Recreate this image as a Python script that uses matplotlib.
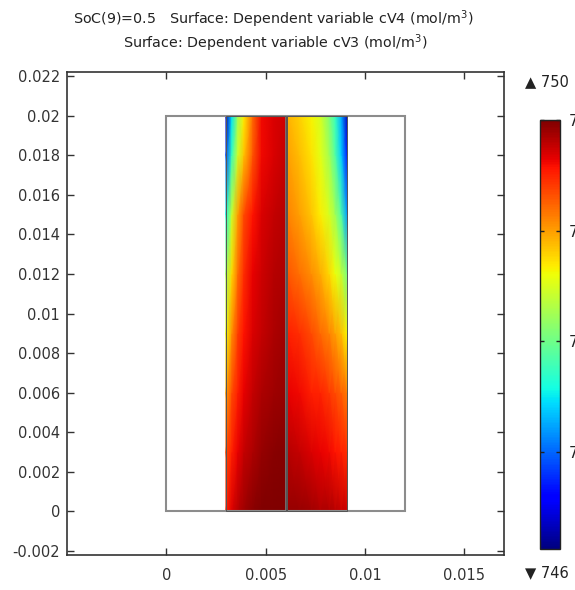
import numpy as np
import matplotlib
matplotlib.use("Agg")
import matplotlib.pyplot as plt
from matplotlib.patches import Rectangle
from matplotlib.ticker import FuncFormatter

# ---------------- data ----------------
title1 = "SoC(9)=0.5   Surface: Dependent variable cV4 (mol/m$^3$)"
title2 = "Surface: Dependent variable cV3 (mol/m$^3$)"

x_ticks = [0, 0.005, 0.01, 0.015]
y_ticks = [-0.002, 0, 0.002, 0.004, 0.006, 0.008, 0.01, 0.012, 0.014,
           0.016, 0.018, 0.02, 0.022]
cbar_ticks = [747, 748, 749, 750]
c_min, c_max = 746.12, 750.0
max_label = "\u25B2 750"
min_label = "\u25BC 746"

# geometry (m)
cell_x = [0.0, 0.012]
cell_y = [0.0, 0.02]
left_x = [0.003, 0.006]
memb_x = [0.006, 0.0061]
right_x = [0.0061, 0.0091]

# normalised sample positions across each electrode (u) and along height (v)
u_left = [0, 0.1, 0.2, 0.3, 0.45, 0.6, 0.8, 1.0]
u_right = [0, 0.2, 0.4, 0.55, 0.7, 0.8, 0.9, 1.0]
v_rows = [0, 0.15, 0.3, 0.45, 0.6, 0.75, 0.9, 1.0]

# cV4 in left electrode (mol/m^3), rows bottom -> top
c_left = [
    [749.53, 749.69, 749.81, 749.88, 749.96, 750.00, 750.00, 750.00],
    [749.34, 749.53, 749.65, 749.77, 749.84, 749.92, 749.96, 749.98],
    [748.99, 749.34, 749.53, 749.65, 749.77, 749.84, 749.88, 749.92],
    [748.60, 749.07, 749.38, 749.57, 749.69, 749.77, 749.84, 749.88],
    [748.25, 748.76, 749.19, 749.46, 749.65, 749.73, 749.81, 749.84],
    [747.56, 748.45, 748.99, 749.34, 749.57, 749.69, 749.77, 749.81],
    [746.90, 747.75, 748.45, 748.84, 749.30, 749.61, 749.69, 749.77],
    [746.35, 747.48, 748.25, 748.68, 749.22, 749.61, 749.69, 749.73],
]
# cV3 in right electrode (mol/m^3), rows bottom -> top
c_right = [
    [749.92, 749.92, 749.88, 749.84, 749.84, 749.81, 749.77, 749.73],
    [749.81, 749.77, 749.69, 749.65, 749.61, 749.57, 749.53, 749.46],
    [749.65, 749.61, 749.53, 749.50, 749.42, 749.34, 749.26, 749.15],
    [749.53, 749.46, 749.34, 749.22, 749.11, 748.99, 748.87, 748.64],
    [749.30, 749.19, 749.07, 748.95, 748.76, 748.60, 748.41, 748.06],
    [749.11, 748.99, 748.84, 748.68, 748.49, 748.25, 747.87, 747.21],
    [748.99, 748.87, 748.72, 748.56, 748.25, 747.87, 747.40, 746.70],
    [748.91, 748.80, 748.64, 748.49, 748.10, 747.75, 747.28, 746.35],
]

# ---------------- figure ----------------
plt.rcParams['font.family'] = ['DejaVu Sans']
W, H = 575, 590
fig = plt.figure(figsize=(W / 100, H / 100), dpi=100)

ax = fig.add_axes([67 / W, 1 - 555 / H, (504 - 67) / W, (555 - 72) / H])
ax.set_xlim(-0.005, 0.017)
ax.set_ylim(-0.0022, 0.0222)

cmap = plt.get_cmap('jet')

def draw_field(xr, u, vals):
    xs = xr[0] + np.array(u) * (xr[1] - xr[0])
    ys = np.array(v_rows) * (cell_y[1] - cell_y[0]) + cell_y[0]
    X, Y = np.meshgrid(xs, ys)
    return ax.pcolormesh(X, Y, np.array(vals), shading='gouraud', cmap=cmap,
                         vmin=c_min, vmax=c_max, zorder=1)

mesh = draw_field(left_x, u_left, c_left)
draw_field(right_x, u_right, c_right)

# membrane
ax.add_patch(Rectangle((memb_x[0], cell_y[0]), memb_x[1] - memb_x[0],
                       cell_y[1] - cell_y[0], facecolor='#8a8a8a',
                       edgecolor='#7a7a7a', lw=1.2, zorder=2))
# cell outline
ax.add_patch(Rectangle((cell_x[0], cell_y[0]), cell_x[1] - cell_x[0],
                       cell_y[1] - cell_y[0], facecolor='none',
                       edgecolor='#8c8c8c', lw=1.5, zorder=3))
for xr in (left_x, right_x):
    ax.add_patch(Rectangle((xr[0], cell_y[0]), xr[1] - xr[0],
                           cell_y[1] - cell_y[0], facecolor='none',
                           edgecolor='#555555', lw=0.7, zorder=3))

fmt = FuncFormatter(lambda v, p: ('%g' % round(v, 6)) if abs(v) > 1e-12 else '0')
ax.set_xticks(x_ticks)
ax.set_yticks(y_ticks)
ax.xaxis.set_major_formatter(fmt)
ax.yaxis.set_major_formatter(fmt)
ax.tick_params(direction='in', length=5, width=1.0, top=True, right=True,
               labelsize=10.5, colors='#333333', pad=5)
ax.tick_params(axis='x', pad=9)
for s in ax.spines.values():
    s.set_color('#333333')
    s.set_linewidth(1.2)

# colorbar
cax = fig.add_axes([540 / W, 1 - 549 / H, 20 / W, (549 - 120) / H])
cb = fig.colorbar(mesh, cax=cax, ticks=cbar_ticks)
cb.outline.set_edgecolor('#222222')
cb.outline.set_linewidth(1.0)
cax.tick_params(direction='in', length=3, width=1.0, left=True, right=True,
                labelsize=10.5, colors='#222222', pad=6)
cax.yaxis.set_major_formatter(FuncFormatter(lambda v, p: '%d' % round(v)))

fig.text(547 / W, 1 - 82 / H, max_label, ha='center', va='center',
         fontsize=10.5, color='#222222')
fig.text(547 / W, 1 - 573 / H, min_label, ha='center', va='center',
         fontsize=10.5, color='#222222')

fig.text(273 / W, 1 - 19 / H, title1, ha='center', va='center',
         fontsize=10.3, color='#222222')
fig.text(275 / W, 1 - 43 / H, title2, ha='center', va='center',
         fontsize=10.3, color='#222222')

fig.savefig('out.png', dpi=100)
